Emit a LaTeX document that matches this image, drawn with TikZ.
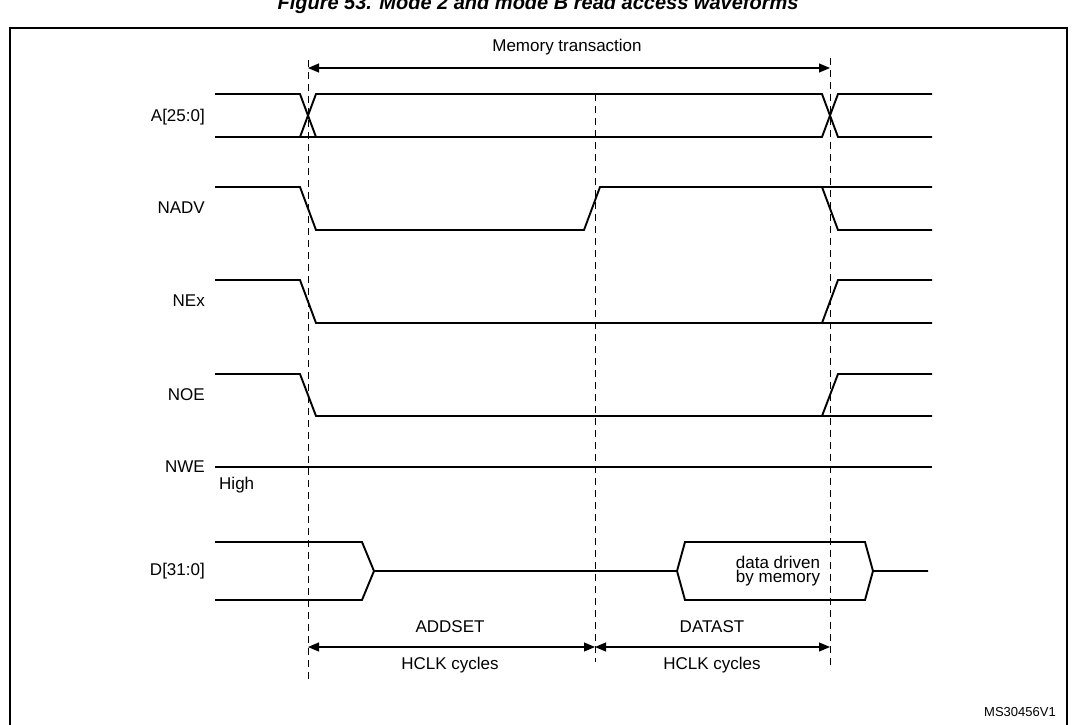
\documentclass[tikz,border=0pt]{standalone}
\usepackage{fontspec}
\setmainfont{Liberation Sans}
\usetikzlibrary{arrows.meta}
\begin{document}
\begin{tikzpicture}[x=1pt,y=-1pt,
  sig/.style={line width=1.9pt},
  dsh/.style={line width=0.9pt,dash pattern=on 7pt off 5pt},
  dim/.style={line width=1.1pt,{Triangle[length=11pt,width=9pt]}-{Triangle[length=11pt,width=9pt]}},
  lbl/.style={font=\fontsize{17}{18}\selectfont,anchor=east,inner sep=0pt},
  txt/.style={font=\fontsize{17}{18}\selectfont,inner sep=0pt}]
\useasboundingbox (0,0) rectangle (1077,724);
\clip (0,0) rectangle (1077,724);
\node[font=\bfseries\itshape\fontsize{20}{21}\selectfont,anchor=base] (title) at (538,9) {Figure 53. Mode 2 and mode B read access waveforms};
\draw[line width=1.3pt] (10,28) rectangle (1067,730);
% labels
\node[lbl] (la) at (205,117) {A[25:0]};
\node[lbl] (lnadv) at (205,208) {NADV};
\node[lbl] (lnex) at (205,301) {NEx};
\node[lbl] (lnoe) at (205,395) {NOE};
\node[lbl] (lnwe) at (205,467) {NWE};
\node[txt,anchor=west] (lhigh) at (219,485) {High};
\node[lbl] (ld) at (205,571) {D[31:0]};
% A
\draw[sig] (215,94) -- (300,94) -- (316,137) -- (215,137)
           (300,137) -- (316,94) -- (822,94) -- (838,137) -- (932,137)
           (316,137) -- (822,137) -- (838,94) -- (932,94);
% NADV
\draw[sig] (215,187) -- (300,187) -- (316,230) -- (584,230) -- (600,187) -- (932,187)
           (822,187) -- (838,230) -- (932,230);
% NEx
\draw[sig] (215,280) -- (300,280) -- (316,323) -- (932,323)
           (822,323) -- (838,280) -- (932,280);
% NOE
\draw[sig] (215,374) -- (300,374) -- (316,416) -- (932,416)
           (822,416) -- (838,374) -- (932,374);
% NWE
\draw[sig] (215,467) -- (932,467);
% D
\draw[sig] (215,542) -- (362,542) -- (374,571) -- (362,600) -- (215,600)
           (374,571) -- (677,571) -- (685,542) -- (865,542) -- (873,571) -- (865,600) -- (685,600) -- (677,571)
           (873,571) -- (928,571);
\node[txt,align=center,font=\fontsize{17}{14}\selectfont] (dd) at (778,571) {data driven\\by memory};
% dashed verticals
\draw[dsh] (308,60) -- (308,680);
\draw[dsh] (595,94) -- (595,662);
\draw[dsh] (830,58) -- (830,670);
% memory transaction
\coordinate (m1) at (308,68); \coordinate (m2) at (830,68);
\draw[dim] (m1) -- (m2);
\node[txt] (mt) at (567,47) {Memory transaction};
% bottom dims
\coordinate (b1) at (308,647); \coordinate (b2) at (595,647); \coordinate (b3) at (830,647);
\draw[dim] (b1) -- (b2);
\draw[dim] (b2) -- (b3);
\node[txt] (ad) at (450,627) {ADDSET};
\node[txt] (h1) at (450,665) {HCLK cycles};
\node[txt] (da) at (712,627) {DATAST};
\node[txt] (h2) at (712,665) {HCLK cycles};
\node[font=\fontsize{13}{14}\selectfont,inner sep=0pt] (ms) at (1020,712) {MS30456V1};
\end{tikzpicture}
\end{document}
